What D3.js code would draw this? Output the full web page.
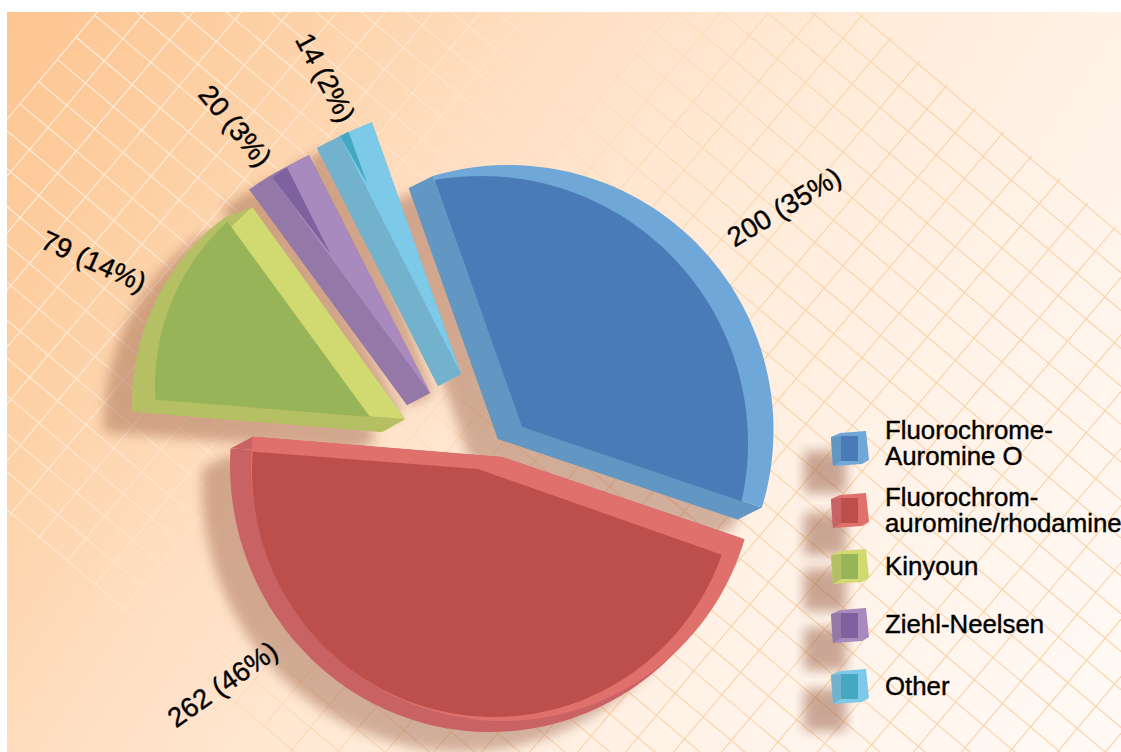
<!DOCTYPE html>
<html lang="en">
<head>
    <meta charset="UTF-8">
    <title>Staining methods</title>
    <script src="https://cdnjs.cloudflare.com/ajax/libs/d3/7.8.5/d3.min.js"></script>
    <style>
        html, body { margin: 0; padding: 0; background: #fff; }
        svg { display: block; }
        text { font-family: "Liberation Sans", Arial, sans-serif; fill: #000; stroke: #000; stroke-width: 0.4px; }
    </style>
</head>
<body>
    <div id="wrapper"></div>
    <script>
        // data
        const categories = ['Fluorochrome-Auromine O', 'Fluorochrom-auromine/rhodamine', 'Kinyoun', 'Ziehl-Neelsen', 'Other']
        const values = [200, 262, 79, 20, 14]
        const shares = [35, 46, 14, 3, 2]
        const legendLines = [['Fluorochrome-', 'Auromine O'], ['Fluorochrom-', 'auromine/rhodamine'], ['Kinyoun'], ['Ziehl-Neelsen'], ['Other']]

        const width = 1121
        const height = 752
        const panel = { x: 7, y: 12 }

        const darkColors = ['#4b7bb6', '#bc4f4c', '#97b558', '#7d629f', '#44a8c3']
        const lightColors = ['#70a7d9', '#e0706c', '#d1d971', '#a98abe', '#7cc9e8']
        const sideColors = ['#6397c3', '#c96363', '#b5bf63', '#9478a8', '#72b2cd']

        // each slice is three layers: side (F), rim (B), face (D)
        // apex, arc centre, arc radii and small turns in degrees because the drawing is in perspective
        const layer = (ax, ay, cx, cy, rx, ry, t0, t1) => ({ ax, ay, cx, cy, rx, ry, t0, t1 })
        const sliceLayout = [
            {
                F: layer(498, 439, 484.5, 442, 265, 265, 3.4, 1.8),
                B: layer(522, 427, 508.5, 430, 265, 265, 3.4, 1.8),
                D: layer(522, 427, 481, 443, 267, 267, 10, -2.6)
            },
            {
                F: layer(495, 462, 490, 465, 260, 267, 0.7, 4.3),
                B: layer(502, 457, 503, 467, 252, 254, 1.3, 7.6),
                D: layer(478, 469, 494, 472, 242, 245, 4.5, 5.5)
            },
            {
                F: layer(382, 432, 364, 403, 232, 232, -1.4, 4.5),
                B: layer(405, 419, 405, 419, 249, 268, 5, 3.5),
                D: layer(370, 417, 378, 386, 223, 223, -2.8, -1.2)
            },
            {
                F: layer(407, 405, 407, 405, 267, 267, 5.1, 1.8),
                B: layer(430, 393, 430, 393, 267, 267, 5.1, 1.8),
                D: layer(330, 253, 430, 393, 267, 267, 5.1, -3.6)
            },
            {
                F: layer(438, 386, 438, 386, 267, 267, 1.8, 0.5),
                B: layer(461, 374, 461, 374, 267, 267, 1.8, 0.5),
                D: layer(367, 183, 461, 374, 267, 267, 1.8, -4.9)
            }
        ]

        const labelLayout = [
            { x: 789, y: 215, rotate: -31 },
            { x: 228, y: 692, rotate: -35 },
            { x: 90, y: 270, rotate: 24 },
            { x: 228, y: 132, rotate: 50 },
            { x: 317, y: 82, rotate: 62 }
        ]

        const legendTop = [431, 493, 549, 608, 669]
        const legendBaseline = [[439, 465], [506, 532], [575], [633], [695]]

        const svg = d3.select('#wrapper').append('svg')
            .attr('width', width)
            .attr('height', height)

        const defs = svg.append('defs')

        const bgGradient = defs.append('linearGradient')
            .attr('id', 'bg')
            .attr('gradientUnits', 'userSpaceOnUse')
            .attr('x1', 0).attr('y1', 0).attr('x2', width).attr('y2', height)
        const bgStops = [[0, '#fdc48f'], [0.2, '#fdd2a8'], [0.35, '#ffdfc3'], [0.55, '#ffecda'], [0.75, '#fff3e9'], [1, '#fffaf6']]
        bgGradient.selectAll('stop').data(bgStops).enter().append('stop')
            .attr('offset', d => d[0])
            .attr('stop-color', d => d[1])

        const gridGradient = defs.append('linearGradient')
            .attr('id', 'gridStroke')
            .attr('gradientUnits', 'userSpaceOnUse')
            .attr('x1', 0).attr('y1', 0).attr('x2', width).attr('y2', height)
        const gridStops = [[0, '#fff4e6'], [0.2, '#ffecd8'], [0.33, '#ffe4cc'], [0.42, '#ffdcba'], [0.6, '#fbd2a8'], [1, '#fbd0a4']]
        gridGradient.selectAll('stop').data(gridStops).enter().append('stop')
            .attr('offset', d => d[0])
            .attr('stop-color', d => d[1])

        defs.append('clipPath').attr('id', 'panelClip')
            .append('rect')
            .attr('x', panel.x).attr('y', panel.y)
            .attr('width', width - panel.x).attr('height', height - panel.y)

        defs.append('filter').attr('id', 'blur')
            .attr('x', '-20%').attr('y', '-20%').attr('width', '140%').attr('height', '140%')
            .append('feGaussianBlur').attr('stdDeviation', 6)

        svg.append('rect')
            .attr('x', panel.x).attr('y', panel.y)
            .attr('width', width - panel.x).attr('height', height - panel.y)
            .attr('fill', 'url(#bg)')

        // lattice behind the pie
        const along = [0.765, 0.644]
        const across = [-0.644, 0.765]
        const origin = [97, 17]
        const cellU = 36.7
        const cellV = 29
        const latticePoint = (u, v) => [origin[0] + u * along[0] + v * across[0], origin[1] + u * along[1] + v * across[1]]
        const vMin = -17 * cellV
        const vMax = 15 * cellV
        const uMin = -3
        const uMax = uMin + 42 * cellU

        const grid = svg.append('g')
            .attr('clip-path', 'url(#panelClip)')
            .attr('fill', 'none')
            .attr('stroke', 'url(#gridStroke)')
            .attr('stroke-width', 1.1)
        const line = d3.line()
        d3.range(-17, 16).forEach(k => {
            grid.append('path').attr('d', line([latticePoint(uMin, k * cellV), latticePoint(uMax, k * cellV)]))
        })
        d3.range(0, 43).forEach(m => {
            const u = uMin + m * cellU
            grid.append('path').attr('d', line([latticePoint(u, vMin - 3), latticePoint(u, vMax + 3)]))
        })

        // slices
        const toRad = Math.PI / 180
        const arcs = d3.pie().sort(null).startAngle(-20 * toRad).endAngle(340 * toRad)(values)

        const arcPoints = (l, arc) => {
            const a0 = arc.startAngle + l.t0 * toRad
            const a1 = arc.endAngle + l.t1 * toRad
            const steps = Math.max(8, Math.ceil((a1 - a0) / (2 * toRad)))
            return d3.range(steps + 1).map(i => {
                const a = a0 + (a1 - a0) * i / steps
                return [l.cx + l.rx * Math.sin(a), l.cy - l.ry * Math.cos(a)]
            })
        }
        const wedge = (l, arc) => [[l.ax, l.ay], ...arcPoints(l, arc)]
        const closed = pts => line(pts) + 'Z'

        const sideShapes = (f, b, arc) => {
            const fArc = arcPoints(f, arc)
            const bArc = arcPoints(b, arc)
            return [
                wedge(f, arc),
                [[f.ax, f.ay], fArc[0], bArc[0], [b.ax, b.ay]],
                [[f.ax, f.ay], fArc[fArc.length - 1], bArc[bArc.length - 1], [b.ax, b.ay]]
            ]
        }

        const shadow = svg.append('g')
            .attr('clip-path', 'url(#panelClip)')
            .append('g')
            .attr('filter', 'url(#blur)')
            .attr('opacity', 0.42)
            .attr('transform', 'translate(-28,20)')
        arcs.forEach((arc, i) => {
            const s = sliceLayout[i]
            sideShapes(s.F, s.B, arc).concat([wedge(s.B, arc)]).forEach(pts => {
                shadow.append('path').attr('d', closed(pts)).attr('fill', '#94583f')
            })
        })

        const drawOrder = [1, 2, 3, 4, 0]
        const pieGroup = svg.append('g')
        drawOrder.forEach(i => {
            const arc = arcs[i]
            const s = sliceLayout[i]
            const g = pieGroup.append('g').attr('class', 'slice')
            sideShapes(s.F, s.B, arc).forEach(pts => {
                g.append('path').attr('d', closed(pts)).attr('fill', sideColors[i])
            })
            g.append('path').attr('d', closed(wedge(s.B, arc))).attr('fill', lightColors[i])
            g.append('path').attr('d', closed(wedge(s.D, arc))).attr('fill', darkColors[i])
        })

        // value labels
        svg.append('g').selectAll('text')
            .data(values)
            .enter().append('text')
            .attr('transform', (d, i) => `translate(${labelLayout[i].x},${labelLayout[i].y}) rotate(${labelLayout[i].rotate})`)
            .attr('text-anchor', 'middle')
            .style('font-size', '27.5px')
            .text((d, i) => `${d} (${shares[i]}%)`)

        // legend
        const cubeOutline = [[0, 6], [9, 2], [35, 0], [38, 29], [31, 33], [2, 35]]
        const cubeLeft = [[0, 6], [10, 5], [10, 30], [2, 35]]
        const cubeInner = [[10, 5], [27, 5], [27, 30], [10, 30]]
        const legend = svg.append('g')
        categories.forEach((name, i) => {
            const top = legendTop[i]
            legend.append('rect')
                .attr('x', 804).attr('y', top + 20)
                .attr('width', 42).attr('height', 42)
                .attr('fill', '#94583f')
                .attr('opacity', 0.5)
                .attr('filter', 'url(#blur)')
            const g = legend.append('g').attr('transform', `translate(831,${top})`)
            g.append('path').attr('d', closed(cubeOutline)).attr('fill', lightColors[i])
            g.append('path').attr('d', closed(cubeLeft)).attr('fill', sideColors[i])
            g.append('path').attr('d', closed(cubeInner)).attr('fill', darkColors[i])
            legendLines[i].forEach((txt, j) => {
                legend.append('text')
                    .attr('x', 885)
                    .attr('y', legendBaseline[i][j])
                    .style('font-size', '25.8px')
                    .text(txt)
            })
        })
    </script>
</body>
</html>
